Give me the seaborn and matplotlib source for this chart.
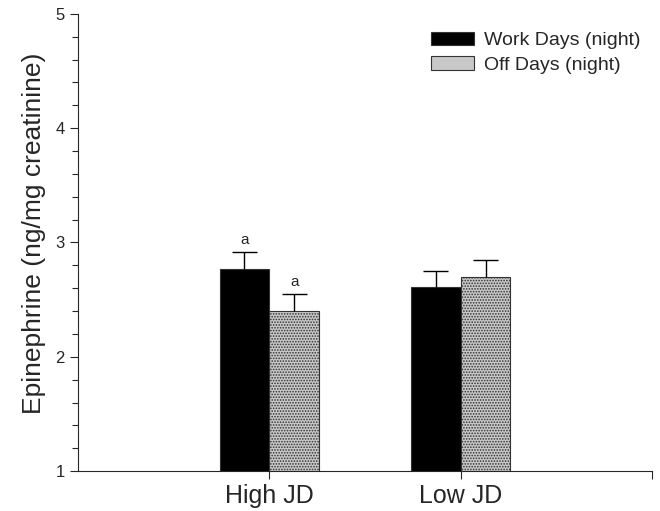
import pandas as pd
import numpy as np
import matplotlib.pyplot as plt
import seaborn as sns

# values
groups = ['High JD', 'Low JD']
series = ['Work Days (night)', 'Off Days (night)']
work_means = [2.77, 2.61]
off_means = [2.40, 2.70]
work_err = [0.15, 0.14]
off_err = [0.15, 0.15]
work_marks = ['a', '']
off_marks = ['a', '']

df = pd.DataFrame({
    'group': groups * 2,
    'series': [series[0]] * 2 + [series[1]] * 2,
    'value': work_means + off_means,
    'err': work_err + off_err,
    'mark': work_marks + off_marks,
})

sns.set_style('ticks')
plt.rcParams['font.family'] = ['Liberation Sans', 'DejaVu Sans']
plt.rcParams['hatch.linewidth'] = 0.8
plt.rcParams['hatch.color'] = '#6e6e6e'

fig = plt.figure(figsize=(6.6, 5.11), dpi=100)
ax = fig.add_axes([0.118, 0.078, 0.870, 0.895])

sns.barplot(data=df, x='group', y='value', hue='series', order=groups,
            hue_order=series, palette=['black', '#c8c8c8'], width=0.52,
            edgecolor='#333333', linewidth=0.8, saturation=1, errorbar=None,
            ax=ax)

# dotted texture on the off-days bars
for bar in ax.containers[1]:
    bar.set_hatch('......')

# one-sided error bars with caps, plus letters
for cont, s in zip(ax.containers, series):
    sub = df[df['series'] == s].set_index('group').loc[groups]
    for bar, (_, row) in zip(cont, sub.iterrows()):
        xc = bar.get_x() + bar.get_width() / 2
        top = bar.get_height()
        hi = top + row['err']
        ax.vlines(xc, top, hi, color='black', lw=1)
        ax.hlines(hi, xc - 0.065, xc + 0.065, color='black', lw=1)
        if row['mark']:
            ax.text(xc, hi + 0.04, row['mark'], ha='center',
                    va='bottom', fontsize=11)

ax.set_ylim(1, 5)
ax.set_xlim(-1, 2)
ax.set_yticks([1, 2, 3, 4, 5])
ax.set_yticks(np.arange(1, 5.01, 0.2), minor=True)
ax.set_xticks([0, 1])
ax.set_xticklabels(groups, fontsize=18)
ax.set_xticks([2], minor=True)
ax.tick_params(axis='y', labelsize=12, length=6, width=0.8)
ax.tick_params(axis='y', which='minor', length=4, width=0.8)
ax.tick_params(axis='x', which='both', length=6, width=0.8)
ax.set_xlabel('')
ax.set_ylabel('Epinephrine (ng/mg creatinine)', fontsize=19)
ax.yaxis.set_label_coords(-0.055, 0.52)
sns.despine(ax=ax)

ax.legend(loc='upper right', bbox_to_anchor=(1.011, 0.999), frameon=False,
          fontsize=14, handlelength=2.2, handleheight=0.7, labelspacing=0.35,
          handletextpad=0.55)

fig.savefig('out.png', dpi=100)
